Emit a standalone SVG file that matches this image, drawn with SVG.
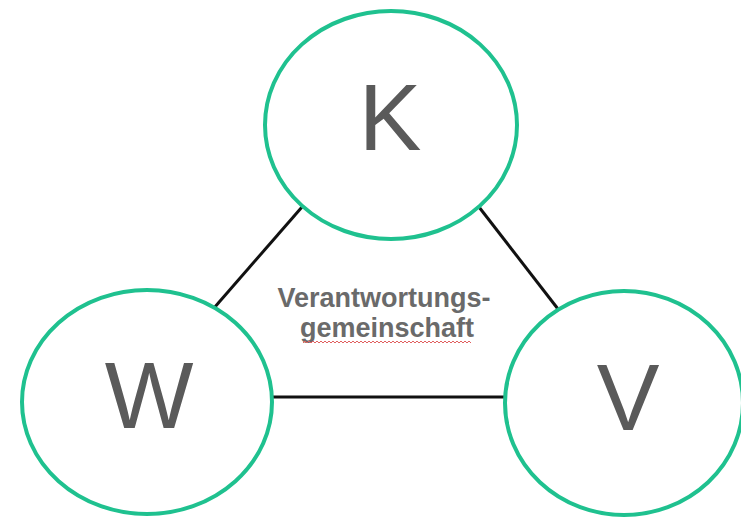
<svg xmlns="http://www.w3.org/2000/svg" width="741" height="517" viewBox="0 0 741 517">
  <style>
    .node ellipse { fill: #ffffff; stroke: #1fc18f; stroke-width: 4; }
    .letter { font-family: "Liberation Sans", Arial, sans-serif; font-size: 94px; fill: #5a5a5a; text-anchor: middle; }
    .edge { stroke: #111111; stroke-width: 3; fill: none; }
    .label { font-family: "Liberation Sans", Arial, sans-serif; font-size: 27px; font-weight: bold; fill: #6a6a6a; text-anchor: middle; }
  </style>
  <defs>
    <!-- red zig-zag used for the spell-check underline -->
    <pattern id="squiggle" x="303" y="340" width="4" height="4" patternUnits="userSpaceOnUse">
      <path d="M0 3 L2 1 L4 3" fill="none" stroke="#e06060" stroke-width="1"/>
    </pattern>
  </defs>
  <rect width="741" height="517" fill="#ffffff"/>

  <!-- connectors between the three circles -->
  <g id="connectors">
    <line class="edge" x1="302" y1="207" x2="214" y2="308"/>
    <line class="edge" x1="479" y1="207" x2="558" y2="309"/>
    <line class="edge" x1="272" y1="397" x2="505" y2="397"/>
  </g>

  <!-- centre label -->
  <g id="label">
    <text class="label" x="384" y="307">Verantwortungs-</text>
    <text class="label" x="387" y="337">gemeinschaft</text>
    <rect x="303" y="340" width="168" height="4" fill="url(#squiggle)"/>
  </g>

  <g id="node-K" class="node">
    <ellipse cx="391" cy="125" rx="126" ry="114"/>
    <text class="letter" x="390" y="150">K</text>
  </g>

  <g id="node-W" class="node">
    <ellipse cx="147" cy="402" rx="125" ry="112"/>
    <text class="letter" x="149" y="428">W</text>
  </g>

  <g id="node-V" class="node">
    <ellipse cx="624" cy="403" rx="119" ry="112"/>
    <text class="letter" x="628" y="430">V</text>
  </g>
</svg>
